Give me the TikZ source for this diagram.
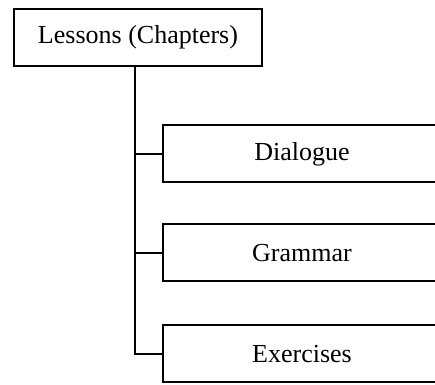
\documentclass[tikz,border=0pt]{standalone}
\usepackage{fontspec}
\setmainfont{Liberation Serif}
\usepackage{tikz}

\begin{document}
\begin{tikzpicture}
   [
   x=0.5pt, y=-0.5pt,
   topbox/.style={rectangle, draw=black, fill=white, line width=1pt, minimum width=124pt, minimum height=28.5pt, font=\fontsize{13}{15}\selectfont},
   subbox/.style={rectangle, draw=black, fill=white, line width=1pt, minimum width=139pt, minimum height=28.5pt, font=\fontsize{13}{15}\selectfont},
   branch/.style={draw=black, line width=1pt},
   ]
 \useasboundingbox (0,0) rectangle (435,385);
 \node at (138,37.5) [topbox] (lessons) {Lessons (Chapters)};
 \node at (302,154) [subbox] (dial) {Dialogue};
 \node at (302,253) [subbox] (gram) {Grammar};
 \node at (302,354) [subbox] (exer) {Exercises};
 % trunk and branches
 \draw[branch] ([xshift=-1.5pt]lessons.south) |- (exer.west);
 \draw[branch] ([xshift=-1.5pt]lessons.south |- dial.west) -- (dial.west);
 \draw[branch] ([xshift=-1.5pt]lessons.south |- gram.west) -- (gram.west);
\end{tikzpicture}
\end{document}
